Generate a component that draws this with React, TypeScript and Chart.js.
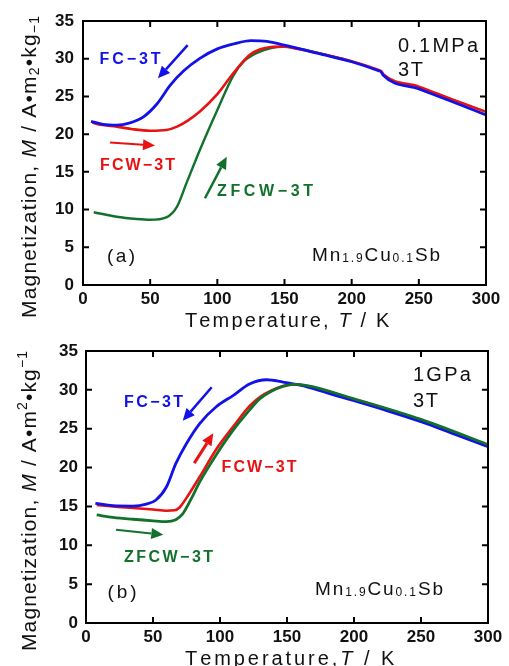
import React, { useEffect, useRef } from 'react';
import { Chart, registerables } from 'chart.js';
Chart.register(...registerables);

// ---------- axes ----------
const X_MIN = 0, X_MAX = 300, X_STEP = 50;
const Y_MIN = 0, Y_MAX = 35, Y_STEP = 5;

// ---------- panel (a): 0.1 MPa, 3 T ----------
const A_FC_T = [6, 15, 25, 35, 45, 55, 65, 75, 87, 100, 112, 125, 137, 150, 175, 200, 220, 222, 223.5, 250, 275, 300];
const A_FC_M = [21.7, 21.3, 21.2, 21.5, 22.3, 24.0, 26.5, 28.4, 30.05, 31.3, 31.95, 32.4, 32.3, 31.8, 30.7, 29.6, 28.4, 28.25, 27.8, 26.0, 24.3, 22.55];
const A_FCW_T = [7, 15, 25, 37, 50, 62, 70, 78, 87, 100, 112, 124, 132, 140, 149, 160, 175, 200, 220, 222, 223.5, 250, 275, 300];
const A_FCW_M = [21.5, 21.2, 21.0, 20.65, 20.45, 20.55, 21.0, 21.8, 23.0, 25.3, 28.1, 30.5, 31.25, 31.55, 31.6, 31.3, 30.75, 29.65, 28.5, 28.35, 27.95, 26.3, 24.6, 22.95];
const A_ZFCW_T = [8, 25, 40, 50, 62, 70, 77, 87, 100, 112, 120, 130, 140, 150, 165, 180, 195];
const A_ZFCW_M = [9.65, 9.05, 8.75, 8.65, 8.97, 10.4, 13.5, 17.9, 23.2, 27.8, 29.7, 30.8, 31.4, 31.6, 31.2, 30.5, 29.9];

// ---------- panel (b): 1 GPa, 3 T ----------
const B_FC_T = [7, 20, 35, 45, 52, 60, 67, 75, 85, 97, 110, 122, 135, 147, 160, 180, 200, 225, 250, 275, 300];
const B_FC_M = [15.4, 15.1, 15.05, 15.3, 15.8, 17.5, 20.5, 23.1, 25.7, 27.8, 29.3, 30.75, 31.3, 31.0, 30.6, 29.6, 28.6, 27.3, 25.9, 24.3, 22.7];
const B_FCW_T = [8, 20, 35, 50, 60, 66, 70, 75, 85, 97, 110, 122, 130, 138, 147, 155, 165, 200, 250, 300];
const B_FCW_M = [15.2, 15.0, 14.8, 14.6, 14.45, 14.5, 14.9, 16.1, 18.85, 22.3, 25.3, 27.9, 29.1, 29.9, 30.5, 30.7, 30.5, 28.8, 26.1, 22.85];
const B_ZFCW_T = [8, 20, 35, 50, 60, 67, 72, 78, 85, 97, 110, 122, 130, 138, 147, 155, 165, 200, 250, 300];
const B_ZFCW_M = [13.9, 13.6, 13.35, 13.15, 13.05, 13.3, 14.0, 15.8, 18.2, 21.6, 24.85, 27.4, 28.9, 29.8, 30.45, 30.7, 30.55, 28.85, 26.2, 22.95];

// ---------- colours / fonts ----------
const BLUE = '#1212e8';
const RED = '#e81212';
const GREEN = '#12722c';
const FAM = '"Liberation Sans", Arial, sans-serif';
const R = (s: number) => `${s}px ${FAM}`;
const B = (s: number) => `bold ${s}px ${FAM}`;
const I = (s: number) => `italic ${s}px ${FAM}`;

type Seg = { t: string; f: string; dy?: number };

function drawRich(ctx: CanvasRenderingContext2D, segs: Seg[], x: number, y: number, align: 'left' | 'center', color: string, targetW?: number) {
  ctx.save();
  ctx.textBaseline = 'alphabetic';
  ctx.textAlign = 'left';
  ctx.fillStyle = color;
  let w = 0;
  let n = 0;
  for (const s of segs) {
    ctx.font = s.f;
    w += ctx.measureText(s.t).width;
    n += Array.from(s.t).length;
  }
  let ls = 0;
  if (targetW && n > 1) ls = (targetW - w) / (n - 1);
  const total = w + ls * (n - 1);
  let cx = align === 'center' ? x - total / 2 : x;
  for (const s of segs) {
    ctx.font = s.f;
    for (const ch of Array.from(s.t)) {
      ctx.fillText(ch, cx, y + (s.dy || 0));
      cx += ctx.measureText(ch).width + ls;
    }
  }
  ctx.restore();
}

function drawArrow(ctx: CanvasRenderingContext2D, x1: number, y1: number, x2: number, y2: number, color: string, lw: number) {
  const ang = Math.atan2(y2 - y1, x2 - x1);
  const hl = 12, hw = 5.5;
  const bx = x2 - hl * Math.cos(ang), by = y2 - hl * Math.sin(ang);
  ctx.save();
  ctx.strokeStyle = color;
  ctx.fillStyle = color;
  ctx.lineWidth = lw;
  ctx.beginPath();
  ctx.moveTo(x1, y1);
  ctx.lineTo(bx, by);
  ctx.stroke();
  ctx.beginPath();
  ctx.moveTo(x2, y2);
  ctx.lineTo(bx + hw * Math.sin(ang), by - hw * Math.cos(ang));
  ctx.lineTo(bx - hw * Math.sin(ang), by + hw * Math.cos(ang));
  ctx.closePath();
  ctx.fill();
  ctx.restore();
}

type Label = { segs: Seg[]; T: number; M: number; align: 'left' | 'center'; color: string; w?: number; size: number };
type Arrow = { from: [number, number]; to: [number, number]; color: string; lw: number };
type Series = { T: number[]; M: number[]; color: string; width: number; name: string };
type PanelCfg = {
  height: number; yW: number; padR: number; padT: number; xH: number; yPad: number; xPad: number;
  series: Series[]; arrows: Arrow[]; labels: Label[];
  yTitle: Seg[]; yTitleW: number; xTitle: Seg[]; xTitleW: number;
};

const A_SERIES: Series[] = [
  { name: 'FC-3T', T: A_FC_T, M: A_FC_M, color: BLUE, width: 2.8 },
  { name: 'FCW-3T', T: A_FCW_T, M: A_FCW_M, color: RED, width: 2.6 },
  { name: 'ZFCW-3T', T: A_ZFCW_T, M: A_ZFCW_M, color: GREEN, width: 2.4 },
];
const B_SERIES: Series[] = [
  { name: 'ZFCW-3T', T: B_ZFCW_T, M: B_ZFCW_M, color: GREEN, width: 2.8 },
  { name: 'FC-3T', T: B_FC_T, M: B_FC_M, color: BLUE, width: 2.8 },
  { name: 'FCW-3T', T: B_FCW_T, M: B_FCW_M, color: RED, width: 2.6 },
];

const formula = (): Seg[] => [
  { t: 'Mn', f: R(19) }, { t: '1.9', f: R(12), dy: 1 }, { t: 'Cu', f: R(19) }, { t: '0.1', f: R(12), dy: 1 }, { t: 'Sb', f: R(19) },
];

const yTitleSegs = (sup: boolean): Seg[] => [
  { t: 'Magnetization, ', f: R(21) }, { t: 'M', f: I(21) }, { t: ' / A•m', f: R(21) },
  { t: '2', f: R(14), dy: sup ? -9 : 3 }, { t: '•kg', f: R(21) }, { t: '−1', f: R(14), dy: sup ? -9 : 3 },
];

const PANEL_A: PanelCfg = {
  height: 330, yW: 83, padR: 23, padT: 21, xH: 45, yPad: 9, xPad: 4,
  series: A_SERIES,
  arrows: [
    { from: [77.9, 31.8], to: [55.8, 27.4], color: BLUE, lw: 2.5 },
    { from: [20.1, 18.9], to: [53.6, 18.5], color: RED, lw: 2 },
    { from: [90.8, 11.5], to: [107, 17.0], color: GREEN, lw: 2.5 },
  ],
  labels: [
    { segs: [{ t: 'FC−3T', f: B(16) }], T: 35, M: 30.1, align: 'center', color: BLUE, w: 61, size: 16 },
    { segs: [{ t: 'FCW−3T', f: B(16) }], T: 40.6, M: 16.0, align: 'center', color: RED, w: 75, size: 16 },
    { segs: [{ t: 'ZFCW−3T', f: B(16) }], T: 135.5, M: 12.5, align: 'center', color: GREEN, w: 96, size: 16 },
    { segs: [{ t: '(a)', f: R(19) }], T: 28.3, M: 4.0, align: 'center', color: '#111', w: 28, size: 19 },
    { segs: [{ t: '0.1MPa', f: R(20) }], T: 234.5, M: 31.9, align: 'left', color: '#111', w: 80, size: 20 },
    { segs: [{ t: '3T', f: R(20) }], T: 234.5, M: 28.7, align: 'left', color: '#111', w: 25, size: 20 },
    { segs: formula(), T: 170.5, M: 4.1, align: 'left', color: '#111', w: 128, size: 19 },
  ],
  yTitle: yTitleSegs(false),
  yTitleW: 302,
  xTitle: [{ t: 'Temperature, ', f: R(20) }, { t: 'T', f: I(20) }, { t: ' / K', f: R(20) }],
  xTitleW: 202,
};

const PANEL_B: PanelCfg = {
  height: 336, yW: 86, padR: 21, padT: 21, xH: 43, yPad: 8, xPad: 4,
  series: B_SERIES,
  arrows: [
    { from: [93.8, 30.33], to: [72.2, 26.04], color: BLUE, lw: 2.5 },
    { from: [80.8, 20.57], to: [95, 24.42], color: RED, lw: 3 },
    { from: [22.4, 12.0], to: [57.7, 11.35], color: GREEN, lw: 2.2 },
  ],
  labels: [
    { segs: [{ t: 'FC−3T', f: B(16) }], T: 50.4, M: 28.5, align: 'center', color: BLUE, w: 59, size: 16 },
    { segs: [{ t: 'FCW−3T', f: B(16) }], T: 129.1, M: 20.2, align: 'center', color: RED, w: 75, size: 16 },
    { segs: [{ t: 'ZFCW−3T', f: B(16) }], T: 61.6, M: 8.65, align: 'center', color: GREEN, w: 89, size: 16 },
    { segs: [{ t: '(b)', f: R(19) }], T: 26.9, M: 4.15, align: 'center', color: '#111', w: 29, size: 19 },
    { segs: [{ t: '1GPa', f: R(20) }], T: 244, M: 32.1, align: 'left', color: '#111', w: 58, size: 20 },
    { segs: [{ t: '3T', f: R(20) }], T: 244, M: 28.7, align: 'left', color: '#111', w: 25, size: 20 },
    { segs: formula(), T: 170.9, M: 4.47, align: 'left', color: '#111', w: 128, size: 19 },
  ],
  yTitle: yTitleSegs(true),
  yTitleW: 300,
  xTitle: [{ t: 'Temperature,', f: R(20) }, { t: 'T', f: I(20) }, { t: ' / K', f: R(20) }],
  xTitleW: 207,
};

function makeDecor(cfg: PanelCfg) {
  return {
    id: 'decor',
    afterDatasetsDraw(chart: any) {
      const ctx: CanvasRenderingContext2D = chart.ctx;
      const xs = chart.scales.x, ys = chart.scales.y;
      for (const a of cfg.arrows) {
        drawArrow(ctx, xs.getPixelForValue(a.from[0]), ys.getPixelForValue(a.from[1]),
          xs.getPixelForValue(a.to[0]), ys.getPixelForValue(a.to[1]), a.color, a.lw);
      }
      for (const l of cfg.labels) {
        const x = xs.getPixelForValue(l.T);
        const y = ys.getPixelForValue(l.M) + l.size * 0.36;
        drawRich(ctx, l.segs, x, y, l.align, l.color, l.w);
      }
    },
    afterDraw(chart: any) {
      const ctx: CanvasRenderingContext2D = chart.ctx;
      const ca = chart.chartArea;
      const xs = chart.scales.x, ys = chart.scales.y;
      ctx.save();
      ctx.strokeStyle = '#000';
      ctx.lineWidth = 2;
      ctx.strokeRect(ca.left, ca.top, ca.right - ca.left, ca.bottom - ca.top);
      const TL = 6;
      ctx.beginPath();
      for (const t of xs.ticks) {
        if (t.value <= X_MIN || t.value >= X_MAX) continue;
        const px = xs.getPixelForValue(t.value);
        ctx.moveTo(px, ca.bottom); ctx.lineTo(px, ca.bottom - TL);
        ctx.moveTo(px, ca.top); ctx.lineTo(px, ca.top + TL);
      }
      for (const t of ys.ticks) {
        if (t.value <= Y_MIN || t.value >= Y_MAX) continue;
        const py = ys.getPixelForValue(t.value);
        ctx.moveTo(ca.left, py); ctx.lineTo(ca.left + TL, py);
        ctx.moveTo(ca.right, py); ctx.lineTo(ca.right - TL, py);
      }
      ctx.stroke();
      ctx.restore();
      // axis titles
      drawRich(ctx, cfg.xTitle, (ca.left + ca.right) / 2 + 1.5, ca.bottom + 42, 'center', '#111', cfg.xTitleW);
      ctx.save();
      ctx.translate(36, (ca.top + ca.bottom) / 2 + 14);
      ctx.rotate(-Math.PI / 2);
      drawRich(ctx, cfg.yTitle, 0, 0, 'center', '#111', cfg.yTitleW);
      ctx.restore();
    },
  };
}

function Panel({ cfg, top }: { cfg: PanelCfg; top: number }) {
  const ref = useRef<HTMLCanvasElement | null>(null);
  useEffect(() => {
    if (!ref.current) return;
    const chart = new Chart(ref.current, {
      type: 'line',
      data: {
        datasets: cfg.series.map((s) => ({
          label: s.name,
          data: s.T.map((t, i) => ({ x: t, y: s.M[i] })),
          borderColor: s.color,
          backgroundColor: s.color,
          borderWidth: s.width,
          pointRadius: 0,
          fill: false,
          cubicInterpolationMode: 'monotone' as const,
        })),
      },
      options: {
        animation: false,
        responsive: false,
        devicePixelRatio: 1,
        layout: { padding: { left: 0, right: cfg.padR, top: cfg.padT, bottom: 0 } },
        plugins: { legend: { display: false }, tooltip: { enabled: false }, title: { display: false } },
        scales: {
          x: {
            type: 'linear', min: X_MIN, max: X_MAX,
            ticks: { stepSize: X_STEP, color: '#111', font: { family: FAM, size: 17, weight: 'bold' }, padding: cfg.xPad, maxRotation: 0 },
            grid: { display: false, drawTicks: false }, border: { display: false },
            afterFit: (s: any) => { s.height = cfg.xH; },
          },
          y: {
            type: 'linear', min: Y_MIN, max: Y_MAX,
            ticks: { stepSize: Y_STEP, color: '#111', font: { family: FAM, size: 17, weight: 'bold' }, padding: cfg.yPad },
            grid: { display: false, drawTicks: false }, border: { display: false },
            afterFit: (s: any) => { s.width = cfg.yW; },
          },
        },
      } as any,
      plugins: [makeDecor(cfg)],
    });
    return () => chart.destroy();
  }, [cfg]);
  return (
    <div style={{ position: 'absolute', left: 0, top, width: 509, height: cfg.height }}>
      <canvas ref={ref} width={509} height={cfg.height} style={{ display: 'block', width: 509, height: cfg.height }} />
    </div>
  );
}

export default function App() {
  return (
    <div style={{ position: 'absolute', left: 0, top: 0, width: 509, height: 666, background: '#fff', overflow: 'hidden' }}>
      <Panel cfg={PANEL_A} top={0} />
      <Panel cfg={PANEL_B} top={330} />
    </div>
  );
}
